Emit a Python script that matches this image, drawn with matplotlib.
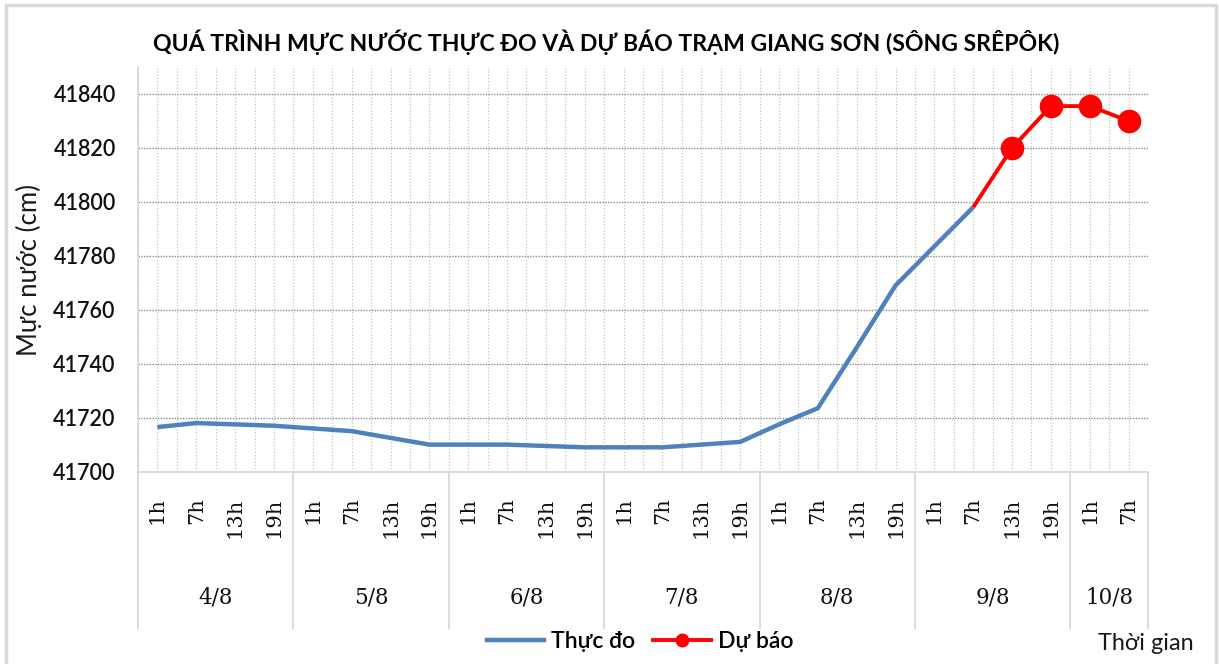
import matplotlib
matplotlib.use('Agg')
import matplotlib.pyplot as plt
from matplotlib.lines import Line2D
import matplotlib.transforms as mtransforms
import numpy as np

# ---------------- data ----------------
hour_labels = ['1h', '7h', '13h', '19h'] * 6 + ['1h', '7h']
date_labels = ['4/8', '5/8', '6/8', '7/8', '8/8', '9/8', '10/8']
date_counts = [4, 4, 4, 4, 4, 4, 2]
measured = [41716.5, 41718, 41717.5, 41717, 41716, 41715, 41712.5, 41710,
            41710, 41710, 41709.5, 41709, 41709, 41709, 41710, 41711,
            41717.5, 41723.5, 41746, 41769, 41783.5, 41798]
forecast_start = 21
forecast = [41798, 41820, 41835.5, 41835.5, 41830]
y_ticks = [41700, 41720, 41740, 41760, 41780, 41800, 41820, 41840]
y_limits = (41700, 41850)

title_text = 'QUÁ TRÌNH MỰC NƯỚC THỰC ĐO VÀ DỰ BÁO TRẠM GIANG SƠN (SÔNG SRÊPÔK)'
ylabel_text = 'Mực nước (cm)'
xlabel_text = 'Thời gian'
series_names = ['Thực đo', 'Dự báo']

# ---------------- style ----------------
SANS = ['Lato', 'DejaVu Sans']
SERIF = ['DejaVu Serif']
plt.rcParams['font.family'] = SANS
BLUE = '#4F81BD'
RED = '#FF0000'
LIGHT = '#D9D9D9'

W, H = 1219, 664
fig = plt.figure(figsize=(W / 100, H / 100), dpi=100)


def fx(px):
    return px / W


def fy(py):
    return 1 - py / H


ax_left, ax_right, ax_top, ax_bottom = 138, 1148, 67, 471.6
ax = fig.add_axes([fx(ax_left), fy(ax_bottom), (ax_right - ax_left) / W,
                   (ax_bottom - ax_top) / H])

x = np.arange(len(hour_labels))
ax.plot(x[:len(measured)], measured, color=BLUE, lw=3.2, zorder=3,
        solid_capstyle='butt', solid_joinstyle='round')
xf = x[forecast_start:forecast_start + len(forecast)]
ax.plot(xf, forecast, color=RED, lw=2.8, zorder=4, marker='o',
        markersize=16, markevery=list(range(1, len(forecast))),
        solid_capstyle='butt')

ax.set_xlim(-0.5, len(hour_labels) - 0.5)
ax.set_ylim(*y_limits)
ax.set_yticks(y_ticks)
ax.set_yticklabels([str(v) for v in y_ticks], fontweight='semibold')
ax.set_xticks(x)
ax.set_xticklabels(hour_labels, rotation=90, family=SERIF, fontsize=15,
                   color='#111111')
ax.set_xticks(np.arange(-0.5, len(hour_labels), 1.0), minor=True)
ax.tick_params(axis='y', length=0, pad=16, labelsize=15.5, labelcolor='#111111')
ax.tick_params(axis='x', which='both', length=0, pad=18.5)

ax.grid(which='both', axis='x', linestyle=(0, (1, 1.6)), color='#C4C4C4', lw=0.9)
ax.grid(which='major', axis='y', linestyle=(0, (1, 1)), color='#8C8C8C', lw=1.0)
ax.set_axisbelow(True)
for s in ['top', 'right']:
    ax.spines[s].set_visible(False)
for s in ['left', 'bottom']:
    ax.spines[s].set_color(LIGHT)
    ax.spines[s].set_linewidth(1.3)

# group separators and date labels
trans = mtransforms.blended_transform_factory(ax.transData, ax.transAxes)
sep_bottom = -(628 - ax_bottom) / (ax_bottom - ax_top)
date_y = -(598 - ax_bottom) / (ax_bottom - ax_top)
bounds = np.concatenate([[0], np.cumsum(date_counts)]) - 0.5
for b in bounds:
    ax.plot([b, b], [0, sep_bottom], transform=trans, clip_on=False,
            color=LIGHT, lw=1.3)
for i, lab in enumerate(date_labels):
    cx = (bounds[i] + bounds[i + 1]) / 2
    ax.text(cx, date_y, lab, transform=trans, ha='center', va='center',
            family=SERIF, fontsize=15.5, color='#111111')

# title, labels
renderer = fig.canvas.get_renderer()


def fit(t, target_w=None, target_h=None):
    bb = t.get_window_extent(renderer)
    if target_w is not None:
        t.set_fontsize(t.get_fontsize() * target_w / bb.width)
    elif target_h is not None:
        t.set_fontsize(t.get_fontsize() * target_h / bb.height)


title = fig.text(fx((153 + 1059) / 2), fy(42), title_text, ha='center',
                 va='center', fontsize=15, fontweight='bold', color='black')
fit(title, target_w=906)
ylab = fig.text(fx(29), fy(270), ylabel_text, rotation=90, ha='center',
                va='center', fontsize=15, color='#1a1a1a')
fit(ylab, target_h=172)
xl = fig.text(fx(1194), fy(643), xlabel_text, ha='right', va='center',
              fontsize=16, color='#1a1a1a')
fit(xl, target_w=96)

handles = [Line2D([], [], color=BLUE, lw=3.2),
           Line2D([], [], color=RED, lw=2.8, marker='o', markersize=9)]
fig.legend(handles=handles, labels=series_names, loc='center',
           bbox_to_anchor=(fx(640), fy(642)), ncol=2, frameon=False,
           prop={'family': SANS, 'size': 16.5, 'weight': 'semibold'},
           handlelength=2.5, handletextpad=0.3, columnspacing=0.8)

# outer frame
fig.add_artist(Line2D([fx(6), fx(6), fx(1216), fx(1216)],
                      [0, fy(5), fy(5), 0], transform=fig.transFigure,
                      color=LIGHT, lw=2.5))

fig.savefig('out.png', dpi=100)
